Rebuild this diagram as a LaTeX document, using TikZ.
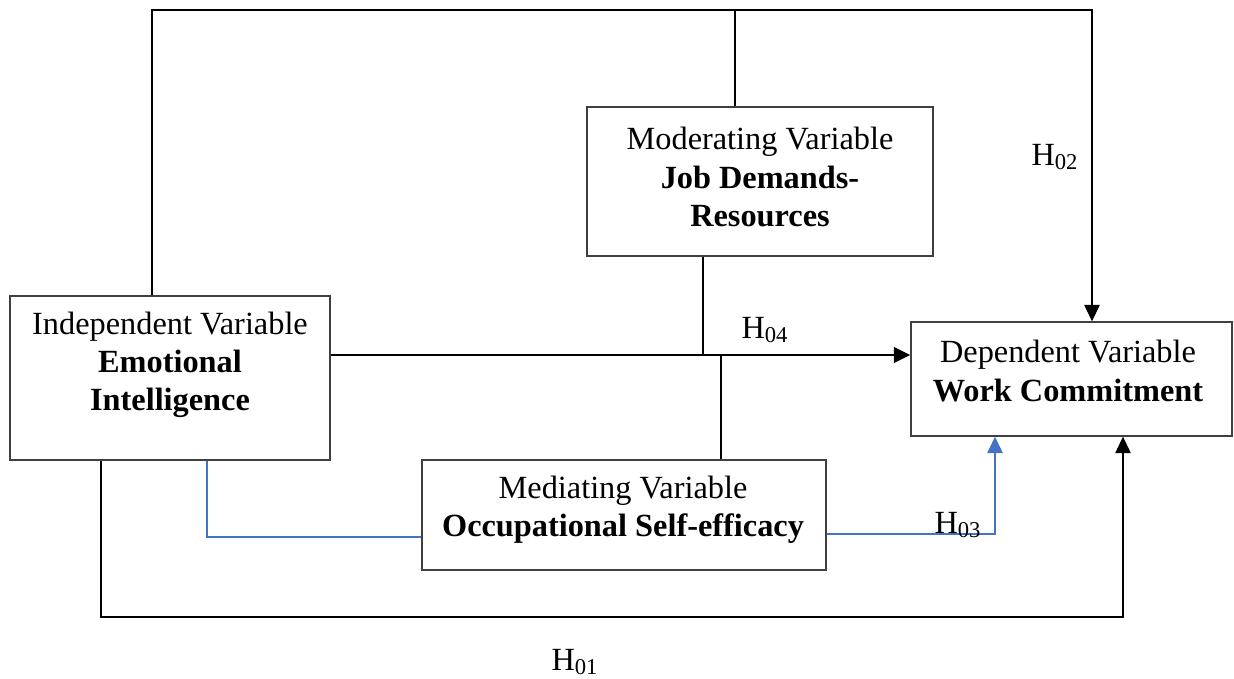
\documentclass[tikz,border=0pt]{standalone}
\usepackage{fontspec}
\setmainfont{Liberation Serif}
\usetikzlibrary{arrows.meta,calc}
\definecolor{linkblue}{RGB}{68,114,196}
\definecolor{boxgray}{RGB}{64,64,64}

\begin{document}
\begin{tikzpicture}[x=0.02cm,y=-0.02cm,
  every node/.style={font=\fontsize{18.4}{21.8}\selectfont},
  box/.style={draw=boxgray,line width=0.8pt,inner sep=0pt},
  txt/.style={align=center,inner sep=0pt},
  link/.style={line width=0.7pt},
  bold link/.style={line width=1.4pt},
  tip/.style={-{Triangle[length=0.33cm,width=0.31cm]}},
  blue link/.style={linkblue,line width=0.7pt}]
  \useasboundingbox (0,0) rectangle (1234,679);

  % Variable boxes
  \node[box,minimum width=6.4cm,minimum height=3.28cm] (iv) at (170,378) {};
  \node[box,minimum width=6.92cm,minimum height=2.98cm] (mv) at (760,181.5) {};
  \node[box,minimum width=6.42cm,minimum height=2.28cm] (dv) at (1071.5,379) {};
  \node[box,minimum width=8.08cm,minimum height=2.2cm] (med) at (624,515) {};

  \node[txt] (ivtext) at (170,365)
    {Independent Variable\\\textbf{Emotional}\\\textbf{Intelligence}};
  \node[txt] (mvtext) at (760,177)
    {Moderating Variable\\\textbf{Job Demands-}\\\textbf{Resources}};
  \node[txt] (dvtext) at (1068,371)
    {Dependent Variable\\\textbf{Work Commitment}};
  \node[txt] (medtext) at (623,510)
    {Mediating Variable\\\textbf{Occupational Self-efficacy}};

  % Path H02 over the top
  \coordinate (tl) at (152,10);
  \coordinate (tr) at (1092,10);
  \coordinate (mtop) at (735,10);
  \draw[link,tip] (iv.north -| tl) -- (tl) -- (tr) -- (tr |- dv.north);
  \draw[link] (mtop) -- (mtop |- mv.north);
  \node (h02) at (1055,157) {H\textsubscript{02}};

  % Path H04 through the middle
  \coordinate (hline) at (0,355);
  \coordinate (mj) at (703,355);
  \coordinate (ej) at (721,355);
  \draw[bold link,tip] (iv.east |- hline) -- (dv.west |- hline);
  \draw[link] (mj |- mv.south) -- (mj);
  \draw[bold link] (ej) -- (ej |- med.north);
  \node (h04) at (765,330) {H\textsubscript{04}};

  % Path H03 via the mediator
  \coordinate (b1) at (207,537);
  \coordinate (b2) at (995,534);
  \draw[blue link] (b1 |- iv.south) -- (b1) -- (b1 -| med.west);
  \draw[blue link,tip] (med.east |- b2) -- (b2) -- (b2 |- dv.south);
  \node (h03) at (958,525) {H\textsubscript{03}};

  % Path H01 along the bottom
  \coordinate (c1) at (101,617);
  \coordinate (c2) at (1123,617);
  \draw[link,tip] (c1 |- iv.south) -- (c1) -- (c2) -- (c2 |- dv.south);
  \node (h01) at (575,662) {H\textsubscript{01}};
\end{tikzpicture}
\end{document}
